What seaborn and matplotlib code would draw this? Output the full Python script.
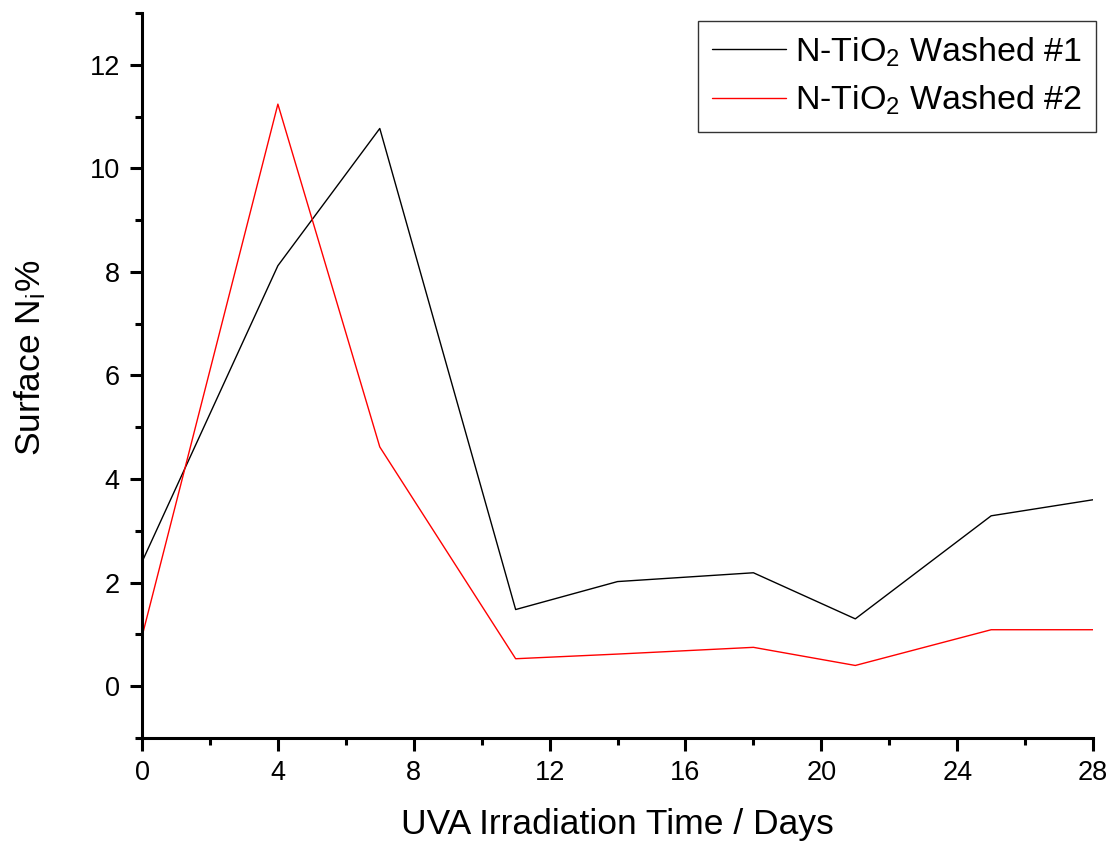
import numpy as np
import pandas as pd
import matplotlib
matplotlib.use("Agg")
import matplotlib.pyplot as plt
from matplotlib.ticker import MultipleLocator
import seaborn as sns

days = [0, 4, 7, 11, 14, 18, 21, 25, 28]
washed_1 = [2.4, 8.12, 10.77, 1.48, 2.02, 2.19, 1.30, 3.29, 3.60]
washed_2 = [0.96, 11.24, 4.62, 0.53, 0.62, 0.75, 0.40, 1.09, 1.09]
series_names = ["N-TiO$_2$ Washed #1", "N-TiO$_2$ Washed #2"]

df = pd.DataFrame({
    "day": days * 2,
    "value": washed_1 + washed_2,
    "series": [series_names[0]] * len(days) + [series_names[1]] * len(days),
})

sns.set_style("ticks")
plt.rcParams["font.family"] = ["Liberation Sans", "DejaVu Sans"]
plt.rcParams["mathtext.default"] = "regular"
plt.rcParams["text.color"] = "black"
plt.rcParams["axes.labelcolor"] = "black"
plt.rcParams["xtick.color"] = "black"
plt.rcParams["ytick.color"] = "black"

fig = plt.figure(figsize=(11.13, 8.43), dpi=100)
ax = fig.add_axes([0.1276, 0.1246, 0.8545, 0.86])

sns.lineplot(
    data=df, x="day", y="value", hue="series",
    palette=["black", "red"], linewidth=1.0, ax=ax,
)

ax.set_xlim(0, 28)
ax.set_ylim(-1, 13)
ax.xaxis.set_major_locator(MultipleLocator(4))
ax.xaxis.set_minor_locator(MultipleLocator(2))
ax.yaxis.set_major_locator(MultipleLocator(2))
ax.yaxis.set_minor_locator(MultipleLocator(1))
ax.tick_params(which="major", length=9, width=2.2, labelsize=19.5, direction="out", pad=7)
ax.tick_params(which="minor", length=5, width=2.2, direction="out")

for side in ["top", "right"]:
    ax.spines[side].set_visible(False)
for side in ["left", "bottom"]:
    ax.spines[side].set_linewidth(2.2)
    ax.spines[side].set_color("black")

ax.set_xlabel("UVA Irradiation Time / Days", fontsize=25.5, labelpad=16)
ax.set_ylabel("Surface N$_i$%", fontsize=25.5)
ax.yaxis.set_label_coords(-0.099, 0.524)

leg = ax.legend(
    loc="upper right", fontsize=24.5, frameon=True, fancybox=False,
    handlelength=2.15, handletextpad=0.27, borderpad=0.42, labelspacing=0.45,
    borderaxespad=0.0, bbox_to_anchor=(1.003, 0.989),
)
leg.get_frame().set_edgecolor("black")
leg.get_frame().set_linewidth(1.0)
for line in leg.get_lines():
    line.set_linewidth(1.0)

plt.savefig("out.png", dpi=100)
plt.close()
